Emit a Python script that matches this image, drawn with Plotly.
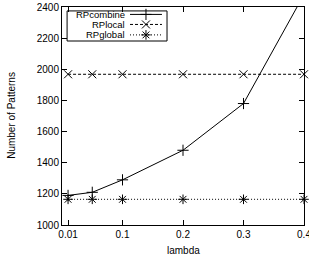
import plotly.graph_objects as go

lam = [0.01, 0.05, 0.1, 0.2, 0.3, 0.4]
rp_combine = [1190, 1210, 1290, 1480, 1780, 2480]
rp_local = [1968, 1968, 1968, 1968, 1968, 1968]
rp_global = [1165, 1165, 1165, 1165, 1165, 1165]
series_names = ["RPcombine", "RPlocal", "RPglobal"]
xtick_vals = [0.01, 0.1, 0.2, 0.3, 0.4]
xtick_text = ["0.01", "0.1", "0.2", "0.3", "0.4"]
ytick_vals = [1000, 1200, 1400, 1600, 1800, 2000, 2200, 2400]

FONT = "Liberation Sans"
styles = [
    dict(dash="solid", symbol="cross-thin-open", clip=True),
    dict(dash="3px,2px", symbol="x-thin-open", clip=False),
    dict(dash="1px,2px", symbol="asterisk-open", clip=False),
]
data = [rp_combine, rp_local, rp_global]

fig = go.Figure()
for name, ys, st in zip(series_names, data, styles):
    fig.add_trace(go.Scatter(
        x=lam, y=ys, name=name, mode="lines+markers",
        line=dict(color="black", width=1, dash=st["dash"]),
        marker=dict(symbol=st["symbol"], size=8, color="black",
                    line=dict(color="black", width=1)),
        showlegend=False, cliponaxis=st["clip"],
    ))

# custom legend (gnuplot style: text right-aligned, sample on the right)
leg_y = [0.966, 0.920, 0.872]
for name, st, yy in zip(series_names, styles, leg_y):
    fig.add_annotation(x=0.264, y=yy, xref="paper", yref="paper", text=name,
                       showarrow=False, xanchor="right", yanchor="middle",
                       borderpad=0,
                       font=dict(family=FONT, size=9.5, color="black"))
    fig.add_shape(type="line", xref="paper", yref="paper",
                  x0=0.281, x1=0.413, y0=yy, y1=yy,
                  line=dict(color="black", width=1, dash=st["dash"]))
fig.add_trace(go.Scatter(
    x=[0.347] * 3, y=leg_y, xaxis="x2", yaxis="y2", mode="markers",
    marker=dict(symbol=[s["symbol"] for s in styles], size=8, color="black",
                line=dict(color="black", width=1)),
    showlegend=False, hoverinfo="skip",
))
fig.add_shape(type="rect", xref="paper", yref="paper",
              x0=0.021, x1=0.434, y0=0.844, y1=0.982,
              line=dict(color="black", width=1), fillcolor="white", layer="below")

# axis titles
fig.add_annotation(x=0.5, y=-0.115, xref="paper", yref="paper", text="lambda",
                   showarrow=False, xanchor="center", yanchor="middle",
                   font=dict(family=FONT, size=10, color="black"))
fig.add_annotation(x=-0.207, y=0.505, xref="paper", yref="paper",
                   text="Number of Patterns", textangle=-90,
                   showarrow=False, xanchor="center", yanchor="middle",
                   font=dict(family=FONT, size=10, color="black"))

axis_common = dict(showgrid=False, zeroline=False, showline=True, linecolor="black",
                   linewidth=1, ticks="inside", ticklen=5, tickcolor="black",
                   mirror="ticks", automargin=False, ticklabeloverflow="allow",
                   tickfont=dict(family=FONT, size=10, color="black"))
fig.update_layout(
    width=309, height=263,
    margin=dict(l=62, r=5, t=7, b=38),
    plot_bgcolor="white", paper_bgcolor="white",
    xaxis=dict(range=[0, 0.4], tickvals=xtick_vals, ticktext=xtick_text,
               **axis_common),
    yaxis=dict(range=[1000, 2400], tickvals=ytick_vals, **axis_common),
    xaxis2=dict(range=[0, 1], overlaying="x", visible=False),
    yaxis2=dict(range=[0, 1], overlaying="y", visible=False),
)

fig.write_html("out.html", config={"displayModeBar": False},
               post_script="document.body.style.margin='0px';"
                           "document.body.style.overflow='hidden';")
